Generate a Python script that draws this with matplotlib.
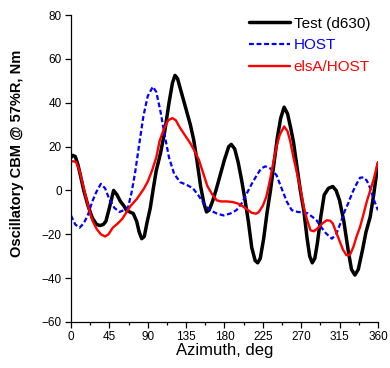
import matplotlib
matplotlib.use("Agg")
import matplotlib.pyplot as plt
from matplotlib.ticker import MultipleLocator

plt.rcParams['font.family'] = ['Liberation Sans', 'DejaVu Sans']

# Test (d630)
test_az = [0, 2, 5, 8, 11, 15, 20, 25, 30, 34, 38, 41, 45, 50, 54, 58, 62,
           65, 69, 73, 77, 80, 83, 86, 89, 93, 97, 100, 105, 110, 115, 119,
           122, 125, 130, 135, 140, 144, 148, 152, 156, 159, 162, 166, 170,
           175, 180, 185, 188, 192, 196, 200, 204, 208, 212, 216, 219, 222,
           226, 230, 234, 238, 242, 246, 250, 254, 258, 261, 265, 269, 273,
           277, 280, 283, 286, 289, 293, 297, 302, 307, 311, 315, 320, 325,
           329, 333, 337, 342, 346, 351, 355, 360]
test_val = [15, 16, 15.5, 12, 7, 0, -7, -12.5, -15.5, -16, -15.5, -14, -8,
            0, -2, -5, -7, -9, -9.8, -10.5, -14, -19, -22, -21, -15, -8, 2,
            9, 17, 27, 40, 49, 52.5, 51, 44, 37, 30, 23, 13, 2, -6, -9.8,
            -9, -5, 0, 7, 14, 20, 21, 19, 13, 5, -4, -14, -26, -32, -33,
            -31, -22, -10, 0, 12, 24, 33, 38, 35, 28, 22, 11, 0, -9, -22,
            -30, -33, -31, -24, -12, -2, 1, 1.8, 0, -4.5, -14, -27, -36,
            -38.6, -36, -27, -19, -12, -2, 12]

# HOST
host_az = [0, 5, 10, 15, 20, 25, 30, 35, 40, 45, 51, 57, 62, 67, 71, 75, 80,
           85, 90, 96, 100, 105, 110, 115, 121, 128, 136, 143, 149, 156, 163,
           171, 179, 187, 194, 200, 206, 212, 218, 223, 228, 234, 241, 247,
           253, 259, 266, 272, 277, 283, 288, 293, 299, 306, 311, 316, 321,
           325, 330, 335, 339, 343, 347, 351, 355, 360]
host_val = [-11.4, -15.5, -17, -15, -11, -5, -0.5, 3, 1, -4, -8, -9.8, -9,
            -7.6, -1, 7.6, 21, 34, 43, 47.3, 45, 36, 25, 15, 7.6, 3.8, 2.5,
            1, -2, -6, -9, -10.5, -11.4, -10.5, -9, -6, -1.5, 3, 7, 10, 11,
            10, 7, 1, -5, -9, -9.8, -10, -10.3, -12, -13.6, -16.5, -19.5, -22,
            -20, -15, -9.5, -6, -1, 3, 5.8, 6, 4.5, 1, -4, -9]

# elsA/HOST
elsa_az = [0, 3, 6, 10, 15, 20, 25, 30, 35, 40, 44, 49, 55, 60, 65, 70, 77,
           85, 90, 95, 100, 104, 109, 114, 119, 123, 128, 134, 140, 145, 150,
           155, 160, 166, 171, 176, 183, 190, 196, 200, 206, 212, 217, 220,
           225, 229, 233, 237, 241, 245, 250, 254, 257, 261, 265, 269, 273,
           277, 281, 285, 290, 295, 300, 304, 307, 311, 315, 319, 323, 327,
           331, 335, 339, 343, 347, 351, 355, 360]
elsa_val = [13.3, 13.3, 13, 9, 1, -7, -13.6, -17.5, -20, -21, -20, -17, -15,
            -13, -10, -7, -4, 0.5, 4, 9, 15, 22.7, 28, 32, 33, 32, 28.5, 25,
            21.5, 18, 14, 8, 2, -2, -4.5, -5, -5, -5.3, -6, -6.8, -8.5,
            -10.2, -10.6, -10, -7, -3, 4, 12, 20, 25.5, 29.2, 27, 22.7, 15,
            8, 1, -7.6, -13.5, -18.2, -18.6, -17, -15, -13.6, -13.8, -15,
            -19, -23, -27, -29.5, -29.5, -26, -21, -16.7, -11, -5, 0, 5,
            13]

fig = plt.figure(figsize=(3.9, 3.68), dpi=100)
ax = fig.add_axes([0.182, 0.125, 0.787, 0.834])

ax.plot(test_az, test_val, color='black', lw=2.5, label='Test (d630)',
        solid_joinstyle='round', solid_capstyle='round')
ax.plot(host_az, host_val, color='#0000ff', lw=1.6, ls=(0, (2.2, 1.2)),
        dash_joinstyle='round', label='HOST')
ax.plot(elsa_az, elsa_val, color='#ff0000', lw=1.7, label='elsA/HOST',
        solid_joinstyle='round', solid_capstyle='round')

ax.set_xlim(0, 360)
ax.set_ylim(-60, 80)
ax.xaxis.set_major_locator(MultipleLocator(45))
ax.xaxis.set_minor_locator(MultipleLocator(22.5))
ax.yaxis.set_major_locator(MultipleLocator(20))
ax.tick_params(axis='both', which='major', direction='out', length=4,
               width=0.9, labelsize=8.5, pad=2.5)
ax.tick_params(axis='x', which='minor', direction='out', length=2.5,
               width=0.9)
for side in ('top', 'right'):
    ax.spines[side].set_visible(False)
for side in ('left', 'bottom'):
    ax.spines[side].set_linewidth(0.9)

ax.set_xlabel('Azimuth, deg', fontsize=12, labelpad=0)
ax.set_ylabel('Oscillatory CBM @ 57%R, Nm', fontsize=10.5,
              fontweight='bold')
ax.yaxis.set_label_coords(-0.152, 0.55)

leg = ax.legend(loc='upper right', frameon=False, fontsize=11,
                handlelength=2.7, handletextpad=0.25, labelspacing=0.5,
                borderaxespad=0.1, bbox_to_anchor=(1.0, 1.02))
for txt, col in zip(leg.get_texts(), ['black', '#0000ff', '#ff0000']):
    txt.set_color(col)

fig.savefig('out.png', dpi=100)
